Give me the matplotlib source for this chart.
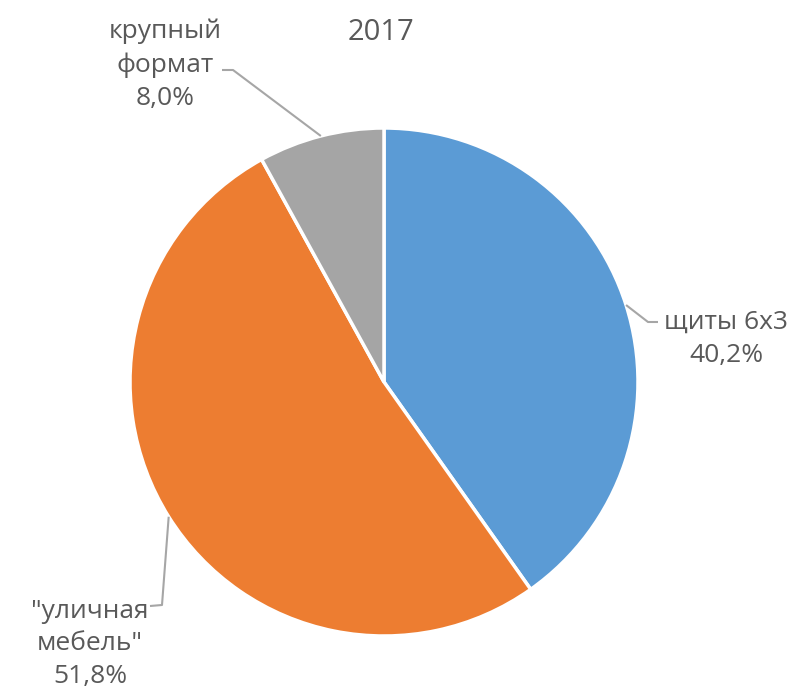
import numpy as np
import matplotlib.pyplot as plt

# data
title = '2017'
labels = ['щиты 6х3', '"уличная\nмебель"', 'крупный\nформат']
shares = [40.2, 51.8, 8.0]
colors = ['#5B9BD5', '#ED7D31', '#A5A5A5']

W, H = 800, 700
fig = plt.figure(figsize=(8, 7), dpi=100)
ax = fig.add_axes([0, 0, 1, 1])
ax.set_xlim(0, W)
ax.set_ylim(0, H)
ax.set_aspect('equal')
ax.axis('off')

# pie in pixel coordinates (y measured from the top of the image)
cx, cy, r = 384, 382, 254
wedges, _ = ax.pie(shares, colors=colors, startangle=90, counterclock=False,
                   center=(cx, H - cy), radius=r,
                   wedgeprops=dict(edgecolor='white', linewidth=2.5))
ax.set_xlim(0, W)
ax.set_ylim(0, H)

txt_color = '#595959'
line_color = '#A6A6A6'
ax.text(381, H - 33, title, ha='center', va='center', fontsize=21,
        color=txt_color, family='Open Sans')

# label placement: (text centre, elbow, end of horizontal leader)
layout = [
    ((726, 339), (648, 322), (658, 322)),
    ((90, 644), (162, 605), (150, 606)),
    ((165, 65), (233, 70), (222, 70)),
]

for w, lab, val, (tpos, elbow, end) in zip(wedges, labels, shares, layout):
    mid = np.deg2rad((w.theta1 + w.theta2) / 2)
    ax0 = cx + r * np.cos(mid)
    ay0 = (H - cy) + r * np.sin(mid)
    ax.plot([ax0, elbow[0], end[0]], [ay0, H - elbow[1], H - end[1]],
            color=line_color, lw=1.5, solid_capstyle='butt')
    text = lab + '\n' + ('%.1f' % val).replace('.', ',') + '%'
    ax.text(tpos[0], H - tpos[1], text, ha='center', va='center',
            fontsize=19, color=txt_color, family='Open Sans',
            linespacing=1.42)

fig.savefig('out.png', dpi=100)
